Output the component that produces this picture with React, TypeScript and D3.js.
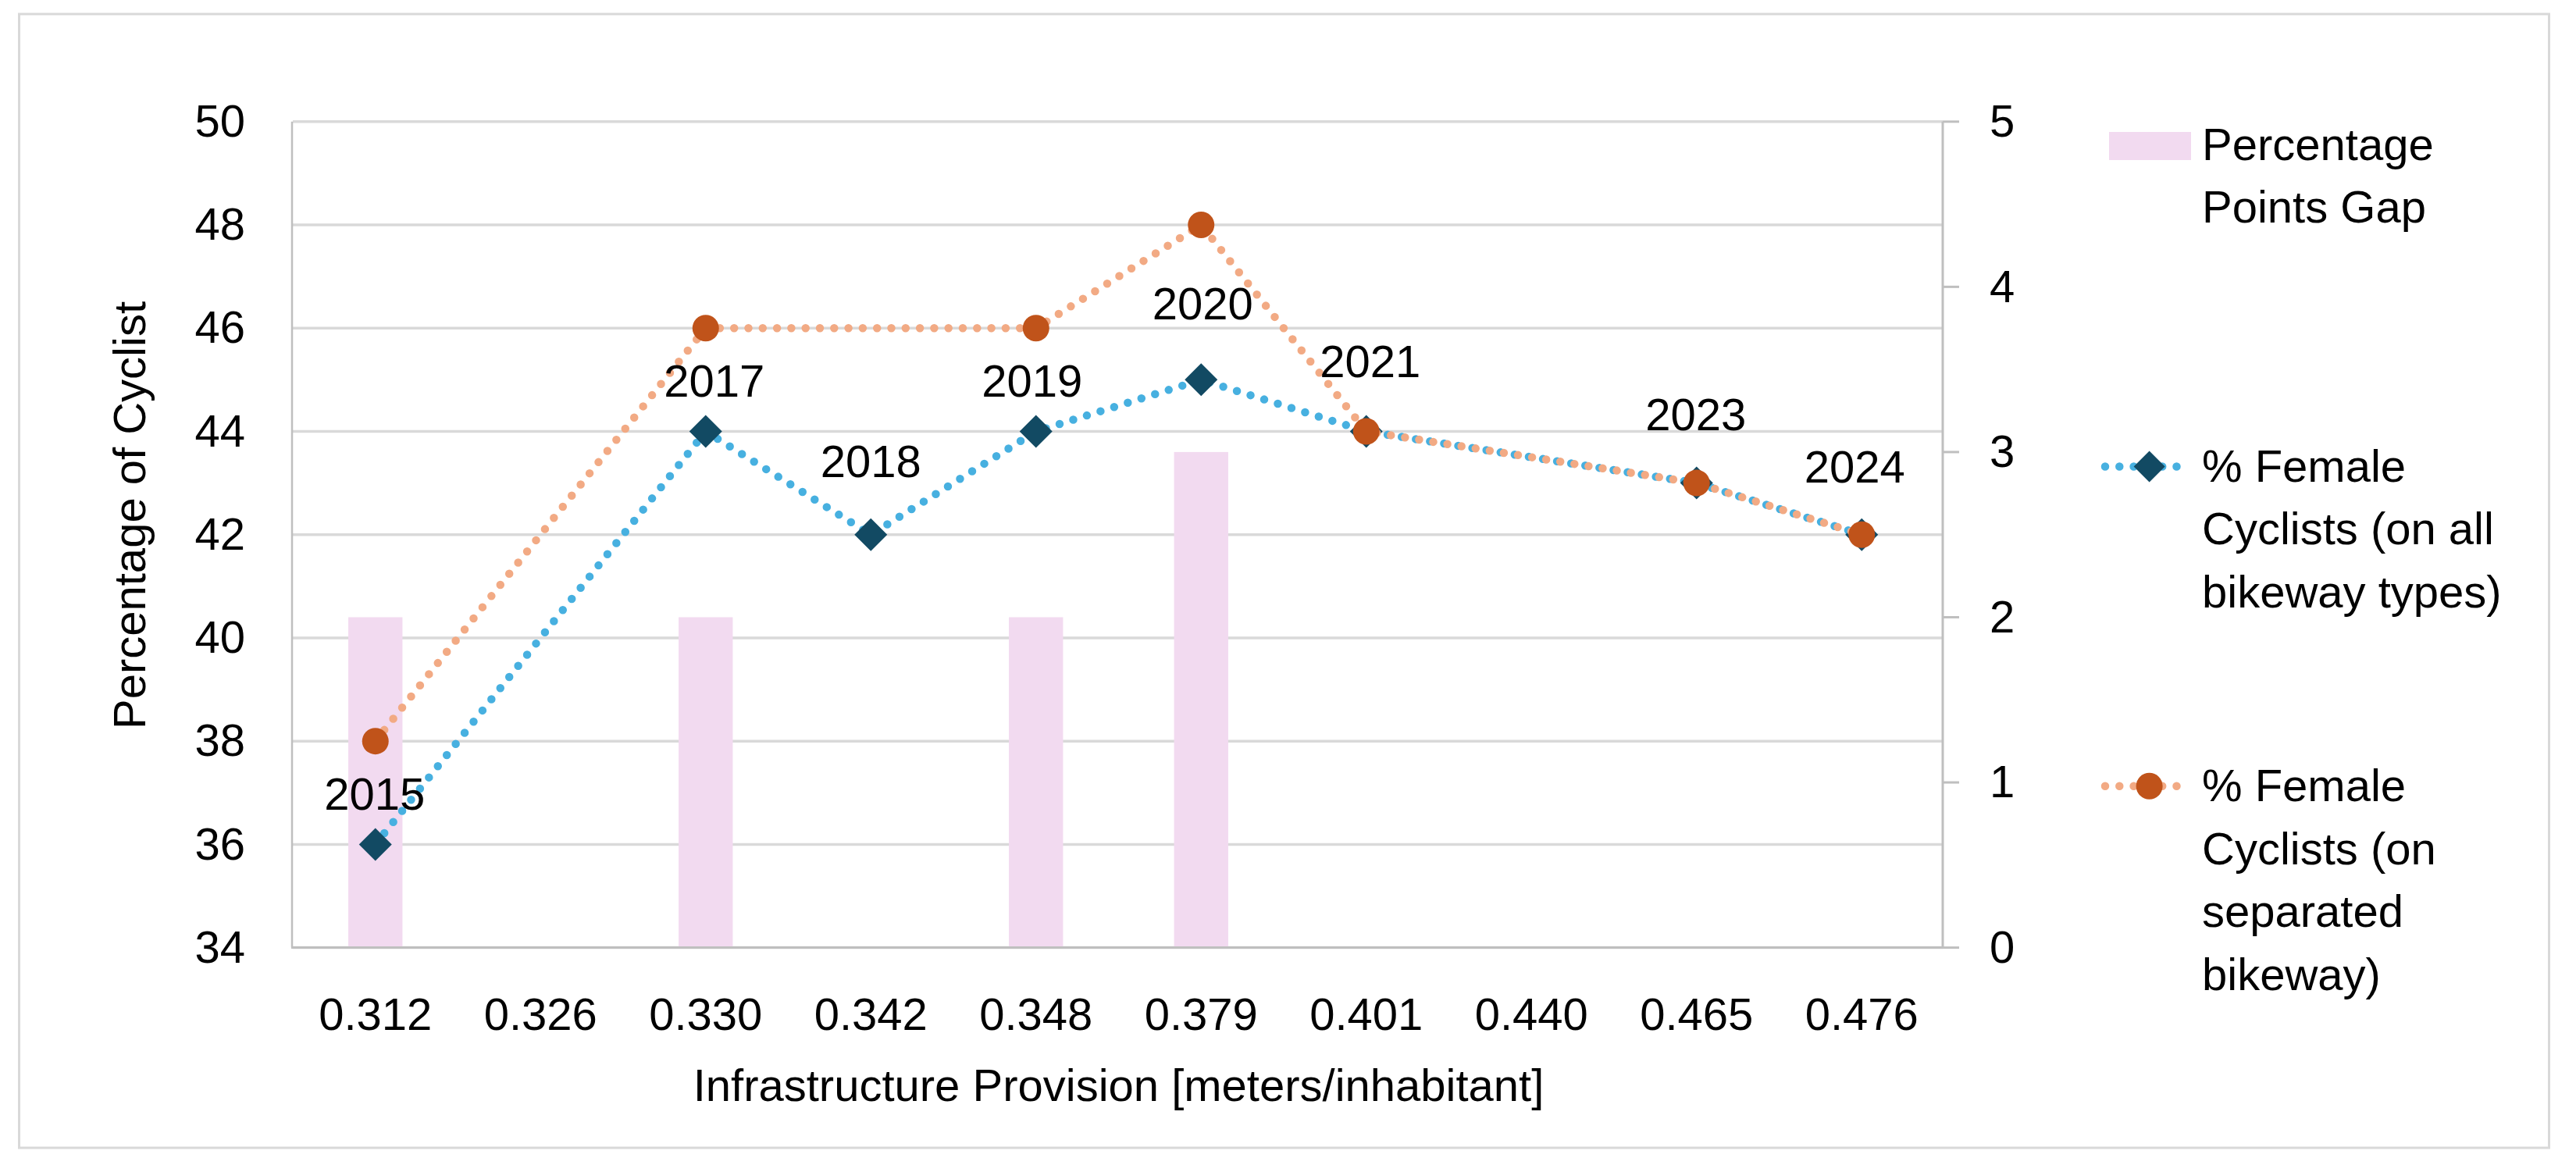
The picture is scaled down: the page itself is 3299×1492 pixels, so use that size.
import React, { useEffect } from "react";
import * as d3 from "d3";

// ---------- data ----------
const categories = ["0.312", "0.326", "0.330", "0.342", "0.348", "0.379", "0.401", "0.440", "0.465", "0.476"];
const years: (string | null)[] = ["2015", null, "2017", "2018", "2019", "2020", "2021", null, "2023", "2024"];
const femaleAll: (number | null)[] = [36, null, 44, 42, 44, 45, 44, null, 43, 42];
const femaleSeparated: (number | null)[] = [38, null, 46, null, 46, 48, 44, null, 43, 42];
const gapPoints: (number | null)[] = [2, null, 2, null, 2, 3, 0, null, 0, 0];
const leftTicks = [34, 36, 38, 40, 42, 44, 46, 48, 50];
const rightTicks = [0, 1, 2, 3, 4, 5];
const legendGap = ["Percentage", "Points Gap"];
const legendAll = ["% Female", "Cyclists (on all", "bikeway types)"];
const legendSep = ["% Female", "Cyclists (on", "separated", "bikeway)"];

// label layout nudges (px) relative to the "% Female (all)" point
const labelDx = [-1, 0, 11, 0, -5, 2, 5, 0, -1, -9];
const labelDy = [-44, 0, -44, -74, -44, -77, -69, 0, -68, -67];

// ---------- layout ----------
const W = 3299;
const H = 1492;
const plot = { left: 375, right: 2490, top: 155.8, bottom: 1213.6 };
const FONT = "'Liberation Sans', Arial, sans-serif";
const FS = 58;

const COLORS = {
  bar: "#F2DAF0",
  blueLine: "#47B0E0",
  blueMarker: "#124A63",
  orangeLine: "#F2AA84",
  orangeMarker: "#C0531A",
  grid: "#D9D9D9",
  axis: "#BFBFBF",
  text: "#000000",
};

export default function App() {
  useEffect(() => {
    document.body.style.margin = "0";
    document.body.style.overflow = "hidden";
  }, []);

  const x = d3.scaleBand<string>().domain(categories).range([plot.left, plot.right]).paddingInner(0).paddingOuter(0);
  const yL = d3.scaleLinear().domain([34, 50]).range([plot.bottom, plot.top]);
  const yR = d3.scaleLinear().domain([0, 5]).range([plot.bottom, plot.top]);
  const cx = (c: string) => (x(c) as number) + x.bandwidth() / 2;
  const barW = x.bandwidth() / (1 + 2.05);

  const mkLine = (vals: (number | null)[]) => {
    const pts = categories
      .map((c, i) => ({ c, v: vals[i] }))
      .filter((d) => d.v !== null) as { c: string; v: number }[];
    const gen = d3
      .line<{ c: string; v: number }>()
      .x((d) => cx(d.c))
      .y((d) => yL(d.v));
    return { path: gen(pts) || "", pts };
  };
  const all = mkLine(femaleAll);
  const sep = mkLine(femaleSeparated);

  const diamond = (px: number, py: number, r: number) =>
    `M${px},${py - r}L${px + r},${py}L${px},${py + r}L${px - r},${py}Z`;

  const dotStyle = { strokeWidth: 10.5, strokeDasharray: "0 18.3", strokeLinecap: "round" as const, fill: "none" };

  const legX = 2820;
  const legLh = 80.8;

  return (
    <svg width={W} height={H} style={{ position: "absolute", left: 0, top: 0, background: "#fff" }} fontFamily={FONT}>
      <rect x={0} y={0} width={W} height={H} fill="#fff" />
      {/* outer border */}
      <rect x={24.5} y={18} width={3240} height={1452} fill="none" stroke={COLORS.grid} strokeWidth={3} />

      {/* gridlines */}
      {leftTicks.map((t) => (
        <line key={"g" + t} x1={plot.left} x2={plot.right - 2} y1={yL(t)} y2={yL(t)} stroke={COLORS.grid} strokeWidth={3.5} />
      ))}

      {/* bars */}
      {categories.map((c, i) =>
        gapPoints[i] ? (
          <rect
            key={"b" + c}
            x={cx(c) - barW / 2}
            y={yR(gapPoints[i] as number)}
            width={barW}
            height={yR(0) - yR(gapPoints[i] as number)}
            fill={COLORS.bar}
          />
        ) : null
      )}

      {/* axes */}
      <line x1={plot.left - 1} x2={plot.left - 1} y1={plot.top} y2={plot.bottom} stroke={COLORS.axis} strokeWidth={2.5} />
      <line x1={plot.left - 2} x2={plot.right - 1} y1={plot.bottom} y2={plot.bottom} stroke={COLORS.axis} strokeWidth={3} />
      <line x1={plot.right - 2} x2={plot.right - 2} y1={plot.top} y2={plot.bottom} stroke={COLORS.axis} strokeWidth={3} />
      {rightTicks.map((t) => (
        <line key={"rt" + t} x1={plot.right - 2} x2={plot.right + 19} y1={yR(t)} y2={yR(t)} stroke={COLORS.axis} strokeWidth={3} />
      ))}

      {/* left tick labels */}
      {leftTicks.map((t) => (
        <text key={"lt" + t} x={314} y={yL(t)} dy="0.33em" textAnchor="end" fontSize={FS} fill={COLORS.text}>
          {t}
        </text>
      ))}
      {/* right tick labels */}
      {rightTicks.map((t) => (
        <text key={"rl" + t} x={2548} y={yR(t)} dy="0.33em" textAnchor="start" fontSize={FS} fill={COLORS.text}>
          {t}
        </text>
      ))}
      {/* x tick labels */}
      {categories.map((c) => (
        <text key={"xt" + c} x={cx(c)} y={1318.7} textAnchor="middle" fontSize={FS} fill={COLORS.text}>
          {c}
        </text>
      ))}

      {/* axis titles */}
      <text x={(plot.left + plot.right) / 2} y={1409.6} textAnchor="middle" fontSize={FS} fill={COLORS.text}>
        Infrastructure Provision [meters/inhabitant]
      </text>
      <text transform={`translate(186,660) rotate(-90)`} textAnchor="middle" fontSize={FS} fill={COLORS.text}>
        Percentage of Cyclist
      </text>

      {/* series: % female all */}
      <path d={all.path} stroke={COLORS.blueLine} {...dotStyle} />
      {all.pts.map((d) => (
        <path key={"da" + d.c} d={diamond(cx(d.c), yL(d.v), 21)} fill={COLORS.blueMarker} />
      ))}

      {/* series: % female separated */}
      <path d={sep.path} stroke={COLORS.orangeLine} {...dotStyle} />
      {sep.pts.map((d) => (
        <circle key={"ds" + d.c} cx={cx(d.c)} cy={yL(d.v)} r={17} fill={COLORS.orangeMarker} />
      ))}

      {/* year data labels */}
      {categories.map((c, i) =>
        years[i] && femaleAll[i] !== null ? (
          <text
            key={"yl" + c}
            x={cx(c) + labelDx[i]}
            y={yL(femaleAll[i] as number) + labelDy[i]}
            textAnchor="middle"
            fontSize={FS}
            fill={COLORS.text}
          >
            {years[i]}
          </text>
        ) : null
      )}

      {/* legend */}
      <rect x={2701} y={169} width={105} height={36} fill={COLORS.bar} />
      {legendGap.map((s, i) => (
        <text key={"lg" + i} x={legX} y={204.6 + i * legLh} fontSize={FS} fill={COLORS.text}>
          {s}
        </text>
      ))}

      <line x1={2696} x2={2799} y1={597.5} y2={597.5} stroke={COLORS.blueLine} {...dotStyle} />
      <path d={diamond(2752.6, 597.5, 20)} fill={COLORS.blueMarker} />
      {legendAll.map((s, i) => (
        <text key={"la" + i} x={legX} y={616.6 + i * legLh} fontSize={FS} fill={COLORS.text}>
          {s}
        </text>
      ))}

      <line x1={2696} x2={2799} y1={1006.7} y2={1006.7} stroke={COLORS.orangeLine} {...dotStyle} />
      <circle cx={2752.6} cy={1006.7} r={17} fill={COLORS.orangeMarker} />
      {legendSep.map((s, i) => (
        <text key={"ls" + i} x={legX} y={1025.7 + i * legLh} fontSize={FS} fill={COLORS.text}>
          {s}
        </text>
      ))}
    </svg>
  );
}
